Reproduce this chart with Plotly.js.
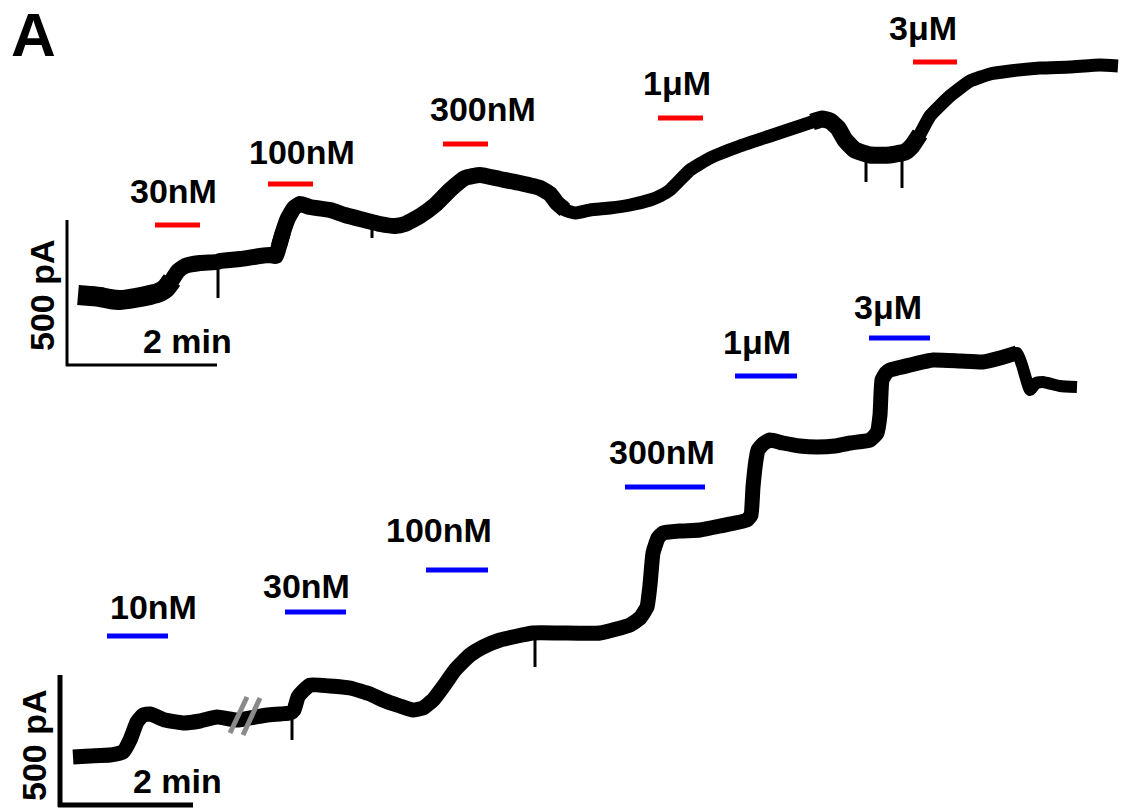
<!DOCTYPE html>
<html>
<head>
<meta charset="utf-8">
<script src="https://cdn.plot.ly/plotly-3.0.1.min.js"></script>
<style>html,body{margin:0;padding:0;background:#fff;}#plot{width:1129px;height:811px;}</style>
</head>
<body>
<div id="plot"></div>
<script>
// ---- Data (image-pixel units: time to the right, current upward = smaller y) ----
// Top trace (red applications)
const topTime    = [78,90,100,110,120,135,150,160,166,172,178,185,200,217,220,240,260,270,276,279,283,288,294,300,310,330,345,360,380,395,405,420,435,450,465,480,500,520,540,550,557,565,575,590,610,630,650,660,670,690,710,740,770,800,812,822,830,838,845,855,870,890,905,912,920,930,950,970,990,1010,1040,1070,1100,1118];
const topCurrent = [295,296,297,299,300,298,295,292,288,280,271,266,263,262,261,259,256,255,256,246,232,218,208,204,207,210,215,219,224,226,224,216,205,190,178,175,179,183,188,194,203,210,213,210,208,205,200,196,190,170,158,146,136,126,122,119,121,128,140,150,155,155,152,146,134,116,96,81,74,71,68,67,65,66];
const topSpikeX = [218,218,null,372,372,null,866,866,null,902,902];
const topSpikeY = [262,298,null,222,238,null,150,182,null,150,188];
const topDrugs  = ['30nM','100nM','300nM','1μM','3μM'];
const topDrugStart = [155,268,443,658,913];
const topDrugEnd   = [200,313,488,703,957];
const topDrugLevel = [225,184,144,118,62];
const topLabelX = [173,302,483,677,923];
const topLabelY = [191,152,109,83,28];

// Bottom trace (blue applications)
const botTime    = [73,90,110,123,130,137,143,150,165,183,200,217,237,255,267,280,290,294,298,304,310,330,350,370,383,400,413,423,433,443,455,470,483,500,533,560,600,630,640,647,650,653,658,663,680,700,720,747,751,753,756,758,763,770,783,800,817,835,850,870,877,880,882,886,890,910,933,960,983,1000,1017,1022,1030,1036,1043,1060,1077];
const botCurrent = [757,756,755,752,740,722,715,714,720,723,721,717,720,717,715,714,713,710,697,690,685,686,688,694,700,706,710,708,700,687,670,655,647,640,633,633,633,625,618,607,585,553,538,533,531,530,526,520,515,487,460,450,444,440,443,446,447,446,443,440,433,415,380,373,370,365,360,361,362,358,353,365,390,383,382,386,387];
const botSpikeX = [292,292,null,535,535];
const botSpikeY = [712,740,null,634,667];
const botDrugs  = ['10nM','30nM','100nM','300nM','1μM','3μM'];
const botDrugStart = [107,285,426,625,735,869];
const botDrugEnd   = [168,346,488,705,797,930];
const botDrugLevel = [636,612,570,487,376,338];
const botLabelX = [153,306,439,662,757,888];
const botLabelY = [607,586,530,452,342,307];

// ---- Styling: the recorded band is thicker where the recording is noisier ----
const topBands = [[78,166,20],[166,280,16],[280,560,16],[560,822,13],[822,915,17],[915,1118,13]];
const botBands = [[73,1000,15],[1000,1077,12]];

function segments(xs, ys, bands){
  return bands.map(b=>{
    let i0 = xs.findIndex(v=>v>=b[0]); 
    let i1 = xs.length-1; for(let i=0;i<xs.length;i++){ if(xs[i]<=b[1]) i1=i; }
    i0 = Math.max(0,i0-1); i1 = Math.min(xs.length-1,i1+1);   // overlap neighbours so bands join
    return {x:xs.slice(i0,i1+1),y:ys.slice(i0,i1+1),mode:'lines',line:{color:'#000',width:b[2],shape:'spline',smoothing:0.4},showlegend:false,hoverinfo:'skip'};
  });
}
function drugBars(starts, ends, level, color){
  const x=[], y=[];
  for(let i=0;i<starts.length;i++){x.push(starts[i],ends[i],null);y.push(level[i],level[i],null);}
  return {x:x,y:y,mode:'lines',line:{color:color,width:5},hoverinfo:'skip',showlegend:false};
}
const traces = [].concat(
  segments(topTime, topCurrent, topBands),
  [{x:topSpikeX,y:topSpikeY,mode:'lines',line:{color:'#000',width:3},showlegend:false,hoverinfo:'skip'}],
  segments(botTime, botCurrent, botBands),
  [{x:botSpikeX,y:botSpikeY,mode:'lines',line:{color:'#000',width:3},showlegend:false,hoverinfo:'skip'}],
  [drugBars(topDrugStart,topDrugEnd,topDrugLevel,'#ff0000'),
   drugBars(botDrugStart,botDrugEnd,botDrugLevel,'#0000ff')]
);

const lblFont = {family:'Liberation Sans, Arial, sans-serif',size:34,color:'#000',weight:'bold'};
const annotations = [];
topDrugs.forEach((t,i)=>annotations.push({x:topLabelX[i],y:topLabelY[i],text:t,showarrow:false,font:lblFont,xanchor:'center',yanchor:'middle'}));
botDrugs.forEach((t,i)=>annotations.push({x:botLabelX[i],y:botLabelY[i],text:t,showarrow:false,font:lblFont,xanchor:'center',yanchor:'middle'}));
// scale bar labels & panel letter
annotations.push({x:42,y:295,text:'500 pA',textangle:-90,showarrow:false,font:lblFont,xanchor:'center',yanchor:'middle'});
annotations.push({x:187,y:341,text:'2 min',showarrow:false,font:lblFont,xanchor:'center',yanchor:'middle'});
annotations.push({x:34,y:745,text:'500 pA',textangle:-90,showarrow:false,font:lblFont,xanchor:'center',yanchor:'middle'});
annotations.push({x:177,y:781,text:'2 min',showarrow:false,font:lblFont,xanchor:'center',yanchor:'middle'});
annotations.push({x:33,y:34,text:'A',showarrow:false,font:{family:'Liberation Sans, Arial, sans-serif',size:62,color:'#000',weight:'bold'},xanchor:'center',yanchor:'middle'});

const shapes = [
  // top scale bar
  {type:'line',x0:67,x1:67,y0:220,y1:366,line:{color:'#000',width:3}},
  {type:'line',x0:66,x1:217,y0:365,y1:365,line:{color:'#000',width:3}},
  // bottom scale bar
  {type:'line',x0:60,x1:60,y0:675,y1:807,line:{color:'#000',width:5}},
  {type:'line',x0:58,x1:193,y0:805,y1:805,line:{color:'#000',width:5}},
  // break marks
  {type:'line',x0:230,x1:247,y0:733,y1:697,line:{color:'#8a8a8a',width:5}},
  {type:'line',x0:243,x1:260,y0:735,y1:698,line:{color:'#8a8a8a',width:5}}
];

const layout = {
  width:1129,height:811,margin:{l:0,r:0,t:0,b:0},
  paper_bgcolor:'#fff',plot_bgcolor:'#fff',
  xaxis:{range:[0,1129],visible:false,fixedrange:true},
  yaxis:{range:[811,0],visible:false,fixedrange:true},
  annotations:annotations,shapes:shapes,showlegend:false
};
Plotly.newPlot('plot',traces,layout,{staticPlot:true,displayModeBar:false});
</script>
</body>
</html>
